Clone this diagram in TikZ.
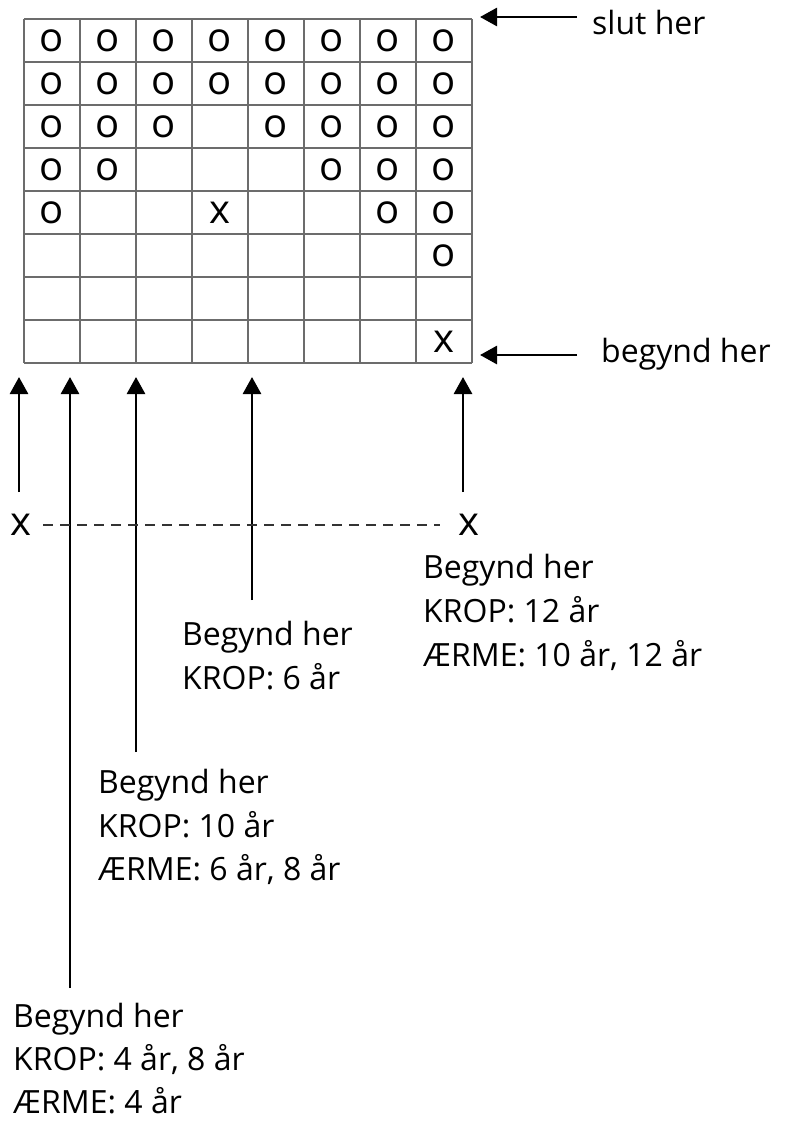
\documentclass[tikz,border=0pt]{standalone}
\usepackage{fontspec}
\setmainfont{Open Sans}
\usetikzlibrary{arrows.meta}
\begin{document}
\begin{tikzpicture}[x=1pt,y=-1pt,
  gridline/.style={draw=gray!85!black, line width=1.5pt},
  arr/.style={line width=2.8pt, -{Triangle[width=18pt,length=17pt]}},
  glyph/.style={font=\fontsize{40}{40}\selectfont, inner sep=0pt},
  lbl/.style={font=\fontsize{32}{32}\selectfont, anchor=base west, inner sep=0pt},
  dashline/.style={line width=2pt, draw=black!80, dash pattern=on 10pt off 7pt}]
\useasboundingbox[fill=white] (0,0) rectangle (788,1122);
% grid
\foreach \i in {0,...,8} {
  \draw[gridline] (24+56*\i,19) -- (24+56*\i,363);
  \draw[gridline] (24,19+43*\i) -- (472,19+43*\i);
}
% glyphs
\foreach \r/\c/\t in {
  1/1/o,1/2/o,1/3/o,1/4/o,1/5/o,1/6/o,1/7/o,1/8/o,
  2/1/o,2/2/o,2/3/o,2/4/o,2/5/o,2/6/o,2/7/o,2/8/o,
  3/1/o,3/2/o,3/3/o,3/5/o,3/6/o,3/7/o,3/8/o,
  4/1/o,4/2/o,4/6/o,4/7/o,4/8/o,
  5/1/o,5/4/x,5/7/o,5/8/o,
  6/8/o,
  8/8/x} {
  \node[glyph] (g-\r-\c) at (24+56*\c-28,19+43*\r-21.5) {\t};
}
% side labels
\node[lbl] (slut) at (592,34) {slut her};
\node[lbl] (begynd) at (601,362) {begynd her};
\coordinate (sA) at (577,17);
\coordinate (sB) at (480,17);
\coordinate (bA) at (577,355);
\coordinate (bB) at (480,355);
\draw[arr] (sA) -- (sB);
\draw[arr] (bA) -- (bB);
% vertical arrows
\coordinate (v1s) at (19,492);  \coordinate (v1e) at (19,377);
\coordinate (v2s) at (70,988);  \coordinate (v2e) at (70,377);
\coordinate (v3s) at (136,752); \coordinate (v3e) at (136,377);
\coordinate (v4s) at (252,600); \coordinate (v4e) at (252,377);
\coordinate (v5s) at (463,492); \coordinate (v5e) at (463,377);
\draw[arr] (v1s) -- (v1e);
\draw[arr] (v2s) -- (v2e);
\draw[arr] (v3s) -- (v3e);
\draw[arr] (v4s) -- (v4e);
\draw[arr] (v5s) -- (v5e);
% dashed line with x marks
\node[glyph] (xL) at (21,525) {x};
\node[glyph] (xR) at (469,525) {x};
\coordinate (dA) at (43,525);
\coordinate (dB) at (440,525);
\draw[dashline] (dA) -- (dB);
% blocks
\node[lbl] (t12a) at (423,578) {Begynd her};
\node[lbl] (t12b) at (423,622) {KROP: 12 år};
\node[lbl] (t12c) at (423,666) {ÆRME: 10 år, 12 år};
\node[lbl] (t6a) at (182,645) {Begynd her};
\node[lbl] (t6b) at (182,689) {KROP: 6 år};
\node[lbl] (t10a) at (98,793) {Begynd her};
\node[lbl] (t10b) at (98,837) {KROP: 10 år};
\node[lbl] (t10c) at (98,880) {ÆRME: 6 år, 8 år};
\node[lbl] (t4a) at (13,1027) {Begynd her};
\node[lbl] (t4b) at (13,1070) {KROP: 4 år, 8 år};
\node[lbl] (t4c) at (13,1113) {ÆRME: 4 år};
\end{tikzpicture}
\end{document}
